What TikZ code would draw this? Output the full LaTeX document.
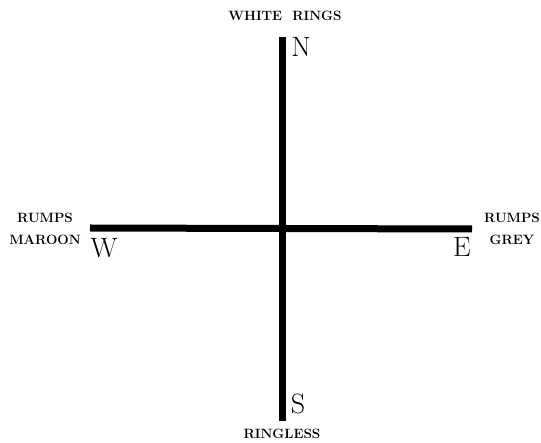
\documentclass[tikz,border=0pt]{standalone}
\usetikzlibrary{positioning}

\begin{document}
\begin{tikzpicture}[
    x=1pt, y=-1pt,
    arm/.style={black, line width=7pt},
    pole/.style={font=\fontsize{28}{30}\selectfont, inner sep=0pt},
    legend/.style={font=\fontsize{13.5}{22}\selectfont\bfseries, align=center, inner sep=0pt}
]

% ---------- frame ----------
\useasboundingbox (0,0) rectangle (541,443);

% ---------- arm ends ----------
\coordinate (n) at (282,37);
\coordinate (s) at (282,421);
\coordinate (w) at (90,228);
\coordinate (e) at (472,229);

% ---------- cross ----------
\draw[arm] (w) -- (e);
\draw[arm] (n) -- (s);

% ---------- letters ----------
\node[pole] (lN) at (301,47) {N};
\node[pole] (lS) at (298,404) {S};
\node[pole] (lW) at (104,248) {W};
\node[pole] (lE) at (462,247) {E};

% ---------- captions ----------
\node[legend] (tN) at (285,16) {WHITE\ \ RINGS};
\node[legend] (tS) at (282,434) {RINGLESS};
\node[legend] (tW) at (45,229) {RUMPS\\MAROON};
\node[legend] (tE) at (512,229) {RUMPS\\GREY};

\end{tikzpicture}
\end{document}
